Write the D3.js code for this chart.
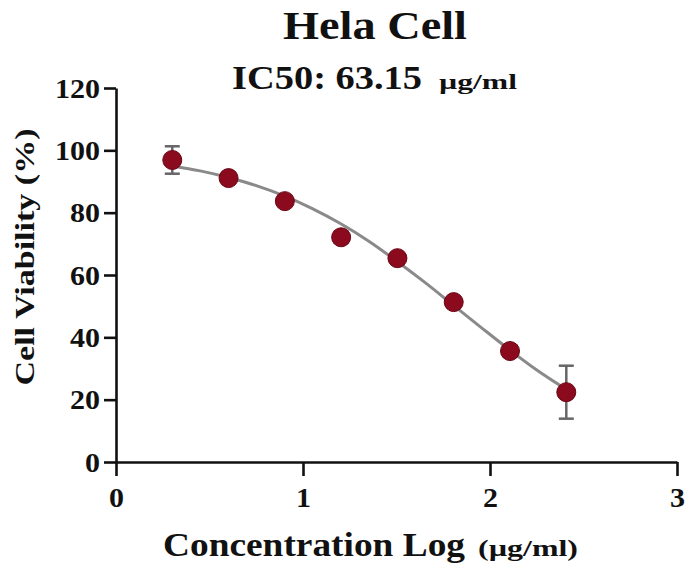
<!DOCTYPE html>
<html>
<head>
<meta charset="utf-8">
<script src="https://cdn.jsdelivr.net/npm/d3@7"></script>
<style>
  body { margin: 0; background: #fff; }
  text { font-family: "Liberation Serif", "Times New Roman", serif; font-weight: bold; fill: #111; }
</style>
</head>
<body>
<script>
// data
const logConc = [0.301, 0.602, 0.903, 1.204, 1.505, 1.806, 2.107, 2.408];
const viability = [96.9, 91.1, 83.7, 72.1, 65.4, 51.3, 35.6, 22.4];
const sem = [4.4, 1.2, 1.5, 1.8, 1.4, 1.6, 1.7, 8.5];

// fitted curve
const fitX = [0.30, 0.45, 0.60, 0.75, 0.90, 1.05, 1.20, 1.35, 1.50, 1.65, 1.80, 1.95, 2.10, 2.25, 2.41];
const fitY = [95.0, 93.4, 91.3, 88.7, 85.4, 81.3, 76.5, 70.9, 64.5, 57.7, 50.5, 43.3, 36.2, 29.5, 23.2];

const xTicks = [0, 1, 2, 3];
const yTicks = [0, 20, 40, 60, 80, 100, 120];

const width = 693;
const height = 570;
const margin = { top: 88, right: 16, bottom: 108, left: 116 };

const svg = d3.select("body")
  .append("svg")
  .attr("width", width)
  .attr("height", height);

const x = d3.scaleLinear().domain([0, 3]).range([margin.left, width - margin.right]);
const y = d3.scaleLinear().domain([0, 120]).range([height - margin.bottom, margin.top]);

// axes
const yAxis = svg.append("g")
  .attr("transform", `translate(${margin.left},0)`)
  .call(d3.axisLeft(y).tickValues(yTicks).tickSize(12).tickSizeOuter(0).tickFormat(d3.format("d")));

const xAxis = svg.append("g")
  .attr("transform", `translate(0,${y(0)})`)
  .call(d3.axisBottom(x).tickValues(xTicks).tickSize(14).tickSizeOuter(0).tickFormat(d3.format("d")));

[xAxis, yAxis].forEach(g => {
  g.selectAll("path, line").attr("stroke", "#111").attr("stroke-width", 2.6);
  g.selectAll("text")
    .style("font-size", "27px")
    .attr("fill", "#111")
    .attr("textLength", d => String(d).length * 15)
    .attr("lengthAdjust", "spacingAndGlyphs");
});

yAxis.selectAll("text").attr("x", -16).attr("dy", "0.34em");
xAxis.selectAll("text").attr("y", 45).attr("dy", 0);

// fitted curve
const line = d3.line()
  .x((d, i) => x(fitX[i]))
  .y(d => y(d))
  .curve(d3.curveMonotoneX);

svg.append("path")
  .datum(fitY)
  .attr("d", line)
  .attr("fill", "none")
  .attr("stroke", "#8a8a8a")
  .attr("stroke-width", 3);

// error bars
const bars = svg.append("g")
  .attr("stroke", "#666")
  .attr("stroke-width", 2.5);

bars.selectAll("line.v")
  .data(viability)
  .join("line")
  .attr("class", "v")
  .attr("x1", (d, i) => x(logConc[i]))
  .attr("x2", (d, i) => x(logConc[i]))
  .attr("y1", (d, i) => y(d + sem[i]))
  .attr("y2", (d, i) => y(d - sem[i]));

["top", "bottom"].forEach(side => {
  bars.selectAll(`line.${side}`)
    .data(viability)
    .join("line")
    .attr("class", side)
    .attr("x1", (d, i) => x(logConc[i]) - 7.5)
    .attr("x2", (d, i) => x(logConc[i]) + 7.5)
    .attr("y1", (d, i) => y(side === "top" ? d + sem[i] : d - sem[i]))
    .attr("y2", (d, i) => y(side === "top" ? d + sem[i] : d - sem[i]));
});

// points
svg.append("g")
  .selectAll("circle")
  .data(viability)
  .join("circle")
  .attr("cx", (d, i) => x(logConc[i]))
  .attr("cy", d => y(d))
  .attr("r", 9.5)
  .attr("fill", "#8c0a1e")
  .attr("stroke", "#6a0616")
  .attr("stroke-width", 1);

// titles
svg.append("text")
  .attr("x", 375)
  .attr("y", 39)
  .attr("text-anchor", "middle")
  .style("font-size", "39px")
  .attr("textLength", 184)
  .attr("lengthAdjust", "spacingAndGlyphs")
  .text("Hela Cell");

svg.append("text")
  .attr("x", 232)
  .attr("y", 89)
  .style("font-size", "33px")
  .attr("textLength", 190)
  .attr("lengthAdjust", "spacingAndGlyphs")
  .text("IC50: 63.15");

svg.append("text")
  .attr("x", 439)
  .attr("y", 89)
  .style("font-size", "22px")
  .attr("textLength", 78)
  .attr("lengthAdjust", "spacingAndGlyphs")
  .text("µg/ml");

// axis labels
svg.append("text")
  .attr("transform", "translate(34,257) rotate(-90)")
  .attr("text-anchor", "middle")
  .style("font-size", "28px")
  .attr("textLength", 257)
  .attr("lengthAdjust", "spacingAndGlyphs")
  .text("Cell Viability (%)");

svg.append("text")
  .attr("x", 163)
  .attr("y", 556)
  .style("font-size", "33px")
  .attr("textLength", 302)
  .attr("lengthAdjust", "spacingAndGlyphs")
  .text("Concentration Log");

svg.append("text")
  .attr("x", 478)
  .attr("y", 556)
  .style("font-size", "23px")
  .attr("textLength", 100)
  .attr("lengthAdjust", "spacingAndGlyphs")
  .text("(µg/ml)");
</script>
</body>
</html>
